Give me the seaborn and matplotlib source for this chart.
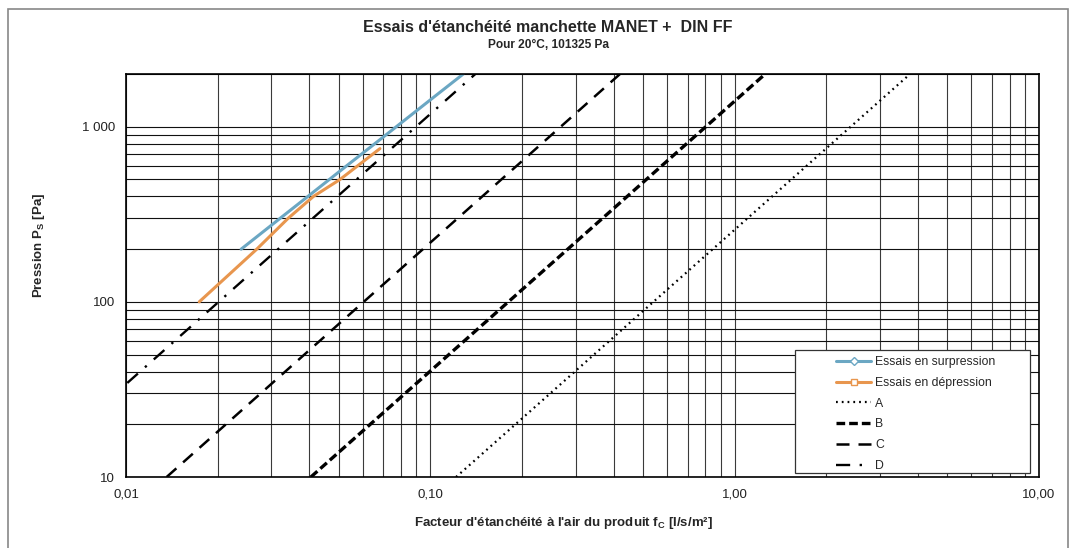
import matplotlib
matplotlib.use("Agg")
import matplotlib.pyplot as plt
import seaborn as sns
import pandas as pd
from matplotlib.lines import Line2D
from matplotlib.patches import Rectangle
from matplotlib.ticker import FixedLocator, LogLocator, NullFormatter, FixedFormatter

# ---------------- data ----------------
surp_fc = [0.0239, 0.0321, 0.0396, 0.0532, 0.0657, 0.0773, 0.1039, 0.1283]
surp_p = [200, 300, 400, 600, 800, 1000, 1500, 2000]

dep_fc = [0.0174, 0.0269, 0.0341, 0.0413, 0.0505, 0.0683]
dep_p = [100, 200, 300, 400, 500, 750]

classA_fc = [0.1215, 3.77]
classA_p = [10, 2000]
classB_fc = [0.0405, 1.26]
classB_p = [10, 2000]
classC_fc = [0.0136, 0.42]
classC_p = [10, 2000]
classD_fc = [0.00453, 0.1406]
classD_p = [10, 2000]

x_ticks = [0.01, 0.1, 1, 10]
x_ticklabels = ["0,01", "0,10", "1,00", "10,00"]
y_ticks = [10, 100, 1000]
y_ticklabels = ["10", "100", "1 000"]

title = "Essais d'étanchéité manchette MANET +  DIN FF"
subtitle = "Pour 20°C, 101325 Pa"
labels = ["Essais en surpression", "Essais en dépression", "A", "B", "C", "D"]

# ---------------- style ----------------
sns.set_style("white")
plt.rcParams["font.family"] = ["Liberation Sans", "DejaVu Sans"]
plt.rcParams["mathtext.fontset"] = "custom"
plt.rcParams["mathtext.rm"] = "Liberation Sans"
plt.rcParams["mathtext.bf"] = "Liberation Sans:bold"

blue = "#6BA7C3"
orange = "#E8964E"

W, H = 1073, 548
x0, x1, y0, y1 = 126, 1039, 477, 74   # plot area in pixels

fig = plt.figure(figsize=(W / 100, H / 100), dpi=100)
ax = fig.add_axes([x0 / W, 1 - y0 / H, (x1 - x0) / W, (y0 - y1) / H])

def axx(px):
    return (px - x0) / (x1 - x0)

def axy(py):
    return (y0 - py) / (y0 - y1)

ax.set_xscale("log")
ax.set_yscale("log")
ax.set_xlim(0.01, 10)
ax.set_ylim(10, 2000)

ax.xaxis.set_major_locator(FixedLocator(x_ticks))
ax.xaxis.set_major_formatter(FixedFormatter(x_ticklabels))
ax.yaxis.set_major_locator(FixedLocator(y_ticks))
ax.yaxis.set_major_formatter(FixedFormatter(y_ticklabels))
ax.xaxis.set_minor_locator(LogLocator(base=10, subs=range(2, 10)))
ax.yaxis.set_minor_locator(LogLocator(base=10, subs=range(2, 10)))
ax.xaxis.set_minor_formatter(NullFormatter())
ax.yaxis.set_minor_formatter(NullFormatter())
ax.xaxis.grid(True, which="both", color="#3a3a3a", linewidth=0.8)
ax.yaxis.grid(True, which="both", color="#111111", linewidth=0.8)
ax.set_axisbelow(True)

def df(x, y):
    return pd.DataFrame({"x": x, "y": y})

styleA = dict(color="black", linewidth=1.6, linestyle=(0, (0.8, 1.8)))
styleB = dict(color="black", linewidth=2.4, linestyle=(0, (2.6, 1.2)))
styleC = dict(color="black", linewidth=1.8, linestyle=(0, (5.2, 3.6)))
styleD = dict(color="black", linewidth=1.7, linestyle=(0, (6, 4, 1, 4)))

common = dict(x="x", y="y", ax=ax, sort=False, estimator=None, legend=False)
sns.lineplot(data=df(classA_fc, classA_p), **styleA, **common)
sns.lineplot(data=df(classB_fc, classB_p), **styleB, **common)
sns.lineplot(data=df(classC_fc, classC_p), **styleC, **common)
sns.lineplot(data=df(classD_fc, classD_p), **styleD, **common)
sns.lineplot(data=df(surp_fc, surp_p), color=blue, linewidth=2.2, **common)
sns.lineplot(data=df(dep_fc, dep_p), color=orange, linewidth=2.2, **common)

for s in ax.spines.values():
    s.set_color("black")
    s.set_linewidth(1.2)

ax.tick_params(axis="both", which="major", direction="out", length=4, width=1,
               labelsize=9.5, colors="black", pad=4)
ax.tick_params(axis="both", which="minor", direction="in", length=3, width=0.8)
for t in ax.get_xticklabels() + ax.get_yticklabels():
    t.set_color("#222222")

ax.set_xlabel(r"Facteur d'étanchéité à l'air du produit f$_{\mathbf{C}}$ [l/s/m²]",
              fontsize=9.5, fontweight="bold")
ax.set_ylabel(r"Pression P$_{\mathbf{S}}$ [Pa]", fontsize=9.5, fontweight="bold")
ax.xaxis.set_label_coords(axx(563), axy(515))
ax.yaxis.set_label_coords(axx(47), axy(245))

# legend: white box with frame, entries placed inside with left margin
ax.add_patch(Rectangle((axx(795), axy(473)), axx(1030) - axx(795), axy(350) - axy(473),
                       transform=ax.transAxes, facecolor="white", edgecolor="#333333",
                       linewidth=0.9, zorder=4))
handles = [
    Line2D([], [], color=blue, linewidth=2.2, marker="D", markersize=4,
           markerfacecolor="white", markeredgecolor=blue),
    Line2D([], [], color=orange, linewidth=2.2, marker="s", markersize=5,
           markerfacecolor="white", markeredgecolor=orange),
    Line2D([], [], **styleA),
    Line2D([], [], **styleB),
    Line2D([], [], **styleC),
    Line2D([], [], **styleD),
]
leg = ax.legend(handles, labels, loc="upper left", bbox_to_anchor=(axx(836), axy(356)),
                frameon=False, fontsize=8.8, handlelength=2.9, labelspacing=0.72,
                borderpad=0, borderaxespad=0, handletextpad=0.3)
leg.set_zorder(5)

# titles
fig.text(548 / W, 1 - 28 / H, title, ha="center", va="center",
         fontsize=11.5, fontweight="bold")
fig.text(548 / W, 1 - 45 / H, subtitle, ha="center", va="center",
         fontsize=8.6, fontweight="bold")

# figure border
fig.patches.append(Rectangle((8 / W, -0.02), (1068 - 8) / W, 1 - 9 / H + 0.02,
                             transform=fig.transFigure, fill=False,
                             edgecolor="#888888", linewidth=1.2))

fig.savefig("out.png", dpi=100)
